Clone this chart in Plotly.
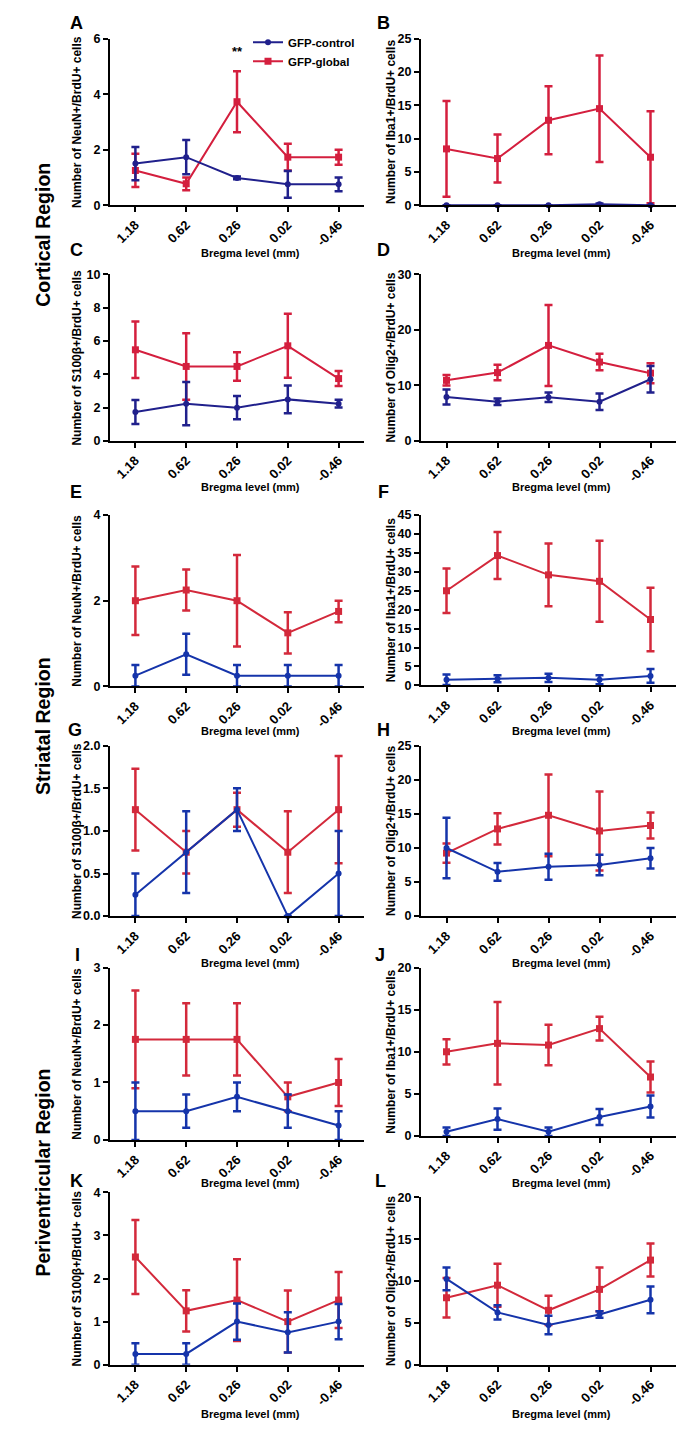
import plotly.graph_objects as go

BREGMA = ["1.18", "0.62", "0.26", "0.02", "-0.46"]
SERIES = ["GFP-control", "GFP-global"]
PANELS = ["A", "B", "C", "D", "E", "F", "G", "H", "I", "J", "K", "L"]
REGIONS = ["Cortical Region", "Striatal Region", "Periventricular Region"]
MARKERS = ["NeuN", "Iba1", "S100β", "Olig2"]

# ---- Cortical ----
A_CTRL = [1.5, 1.73, 0.98, 0.75, 0.75]
A_CTRL_ERR = [0.6, 0.62, 0.05, 0.48, 0.25]
A_GLOB = [1.25, 0.77, 3.73, 1.73, 1.73]
A_GLOB_ERR = [0.6, 0.23, 1.1, 0.48, 0.27]

B_CTRL = [0.0, 0.0, 0.0, 0.15, 0.0]
B_CTRL_ERR = [0.0, 0.0, 0.0, 0.1, 0.0]
B_GLOB = [8.45, 7.0, 12.75, 14.5, 7.2]
B_GLOB_ERR = [7.2, 3.6, 5.1, 8.0, 6.9]

C_CTRL = [1.73, 2.23, 1.99, 2.49, 2.23]
C_CTRL_ERR = [0.72, 1.3, 0.7, 0.84, 0.23]
C_GLOB = [5.47, 4.47, 4.47, 5.71, 3.74]
C_GLOB_ERR = [1.7, 2.0, 0.86, 1.92, 0.45]

D_CTRL = [7.9, 7.05, 7.85, 7.05, 11.1]
D_CTRL_ERR = [1.35, 0.6, 0.85, 1.5, 2.4]
D_GLOB = [10.9, 12.3, 17.2, 14.2, 12.2]
D_GLOB_ERR = [0.95, 1.4, 7.3, 1.5, 1.8]

# ---- Striatal ----
E_CTRL = [0.25, 0.75, 0.25, 0.25, 0.25]
E_CTRL_ERR = [0.25, 0.48, 0.25, 0.25, 0.25]
E_GLOB = [2.0, 2.25, 2.0, 1.25, 1.75]
E_GLOB_ERR = [0.8, 0.48, 1.07, 0.48, 0.25]

F_CTRL = [1.5, 1.75, 2.0, 1.5, 2.5]
F_CTRL_ERR = [1.4, 0.9, 1.1, 1.2, 1.8]
F_GLOB = [25.0, 34.3, 29.2, 27.5, 17.4]
F_GLOB_ERR = [5.9, 6.2, 8.3, 10.7, 8.4]

G_CTRL = [0.25, 0.75, 1.25, 0.0, 0.5]
G_CTRL_ERR = [0.25, 0.48, 0.25, 0.0, 0.5]
G_GLOB = [1.25, 0.75, 1.25, 0.75, 1.25]
G_GLOB_ERR = [0.48, 0.25, 0.2, 0.48, 0.63]

H_CTRL = [10.0, 6.5, 7.25, 7.5, 8.5]
H_CTRL_ERR = [4.45, 1.3, 1.9, 1.5, 1.5]
H_GLOB = [9.25, 12.8, 14.8, 12.5, 13.3]
H_GLOB_ERR = [1.4, 2.3, 6.0, 5.8, 1.9]

# ---- Periventricular ----
I_CTRL = [0.5, 0.5, 0.75, 0.5, 0.25]
I_CTRL_ERR = [0.5, 0.29, 0.25, 0.29, 0.25]
I_GLOB = [1.75, 1.75, 1.75, 0.75, 1.0]
I_GLOB_ERR = [0.85, 0.63, 0.63, 0.25, 0.41]

J_CTRL = [0.5, 2.0, 0.5, 2.25, 3.5]
J_CTRL_ERR = [0.5, 1.25, 0.5, 0.95, 1.3]
J_GLOB = [10.0, 11.0, 10.8, 12.75, 7.0]
J_GLOB_ERR = [1.5, 4.9, 2.4, 1.4, 1.85]

K_CTRL = [0.25, 0.25, 1.0, 0.75, 1.0]
K_CTRL_ERR = [0.25, 0.25, 0.42, 0.47, 0.41]
K_GLOB = [2.5, 1.25, 1.5, 1.0, 1.5]
K_GLOB_ERR = [0.86, 0.48, 0.95, 0.72, 0.65]

L_CTRL = [10.25, 6.25, 4.75, 6.0, 7.75]
L_CTRL_ERR = [1.35, 0.85, 1.1, 0.4, 1.6]
L_GLOB = [8.0, 9.5, 6.5, 9.0, 12.5]
L_GLOB_ERR = [2.37, 2.57, 1.75, 2.6, 1.97]

Y_MAX = [6, 25, 10, 30, 4, 45, 2, 25, 3, 20, 4, 20]
Y_DTICK = [2, 5, 2, 10, 2, 5, 0.5, 5, 1, 5, 1, 5]

SIG_LABEL = "**"
SIG_CATEGORY = "0.26"
SIG_VALUE = 5.55

DATA = [
    (A_CTRL, A_CTRL_ERR, A_GLOB, A_GLOB_ERR),
    (B_CTRL, B_CTRL_ERR, B_GLOB, B_GLOB_ERR),
    (C_CTRL, C_CTRL_ERR, C_GLOB, C_GLOB_ERR),
    (D_CTRL, D_CTRL_ERR, D_GLOB, D_GLOB_ERR),
    (E_CTRL, E_CTRL_ERR, E_GLOB, E_GLOB_ERR),
    (F_CTRL, F_CTRL_ERR, F_GLOB, F_GLOB_ERR),
    (G_CTRL, G_CTRL_ERR, G_GLOB, G_GLOB_ERR),
    (H_CTRL, H_CTRL_ERR, H_GLOB, H_GLOB_ERR),
    (I_CTRL, I_CTRL_ERR, I_GLOB, I_GLOB_ERR),
    (J_CTRL, J_CTRL_ERR, J_GLOB, J_GLOB_ERR),
    (K_CTRL, K_CTRL_ERR, K_GLOB, K_GLOB_ERR),
    (L_CTRL, L_CTRL_ERR, L_GLOB, L_GLOB_ERR),
]

# ---- layout geometry (pixels) ----
W, H = 685, 1433
COL_X = [(102, 356), (413, 668)]
PANEL_Y = [(24, 192), (24, 192), (262, 430), (262, 430), (505, 678), (505, 677),
           (738, 910), (738, 910), (962, 1136), (962, 1132), (1189, 1363), (1194, 1363)]
XTITLE_Y = [240, 240, 477, 477, 723, 723, 957, 957, 1180, 1180, 1413, 1413]
XTITLE_X = [243, 553]
YTITLE_X = [69, 383]
LETTER_POS = [(68, 8), (375, 8), (68, 237), (375, 237), (68, 482), (375, 482),
              (67, 722), (375, 722), (69, 949), (372, 949), (68, 1178), (372, 1177)]
REGION_Y = [222, 718, 1169]
REGION_X = 35

FONT = "Liberation Sans, Arial, sans-serif"
BLUE_TOP = "#20208c"
RED_TOP = "#d41f3e"
BLUE_BOT = "#1534aa"
RED_BOT = "#d3293b"


def px_x(v):
    return v / W


def px_y(v):
    return 1 - v / H


fig = go.Figure()
annotations = []

for i, (ctrl, ctrl_e, glob, glob_e) in enumerate(DATA):
    col = i % 2
    n = i + 1
    xa = "x" if n == 1 else f"x{n}"
    ya = "y" if n == 1 else f"y{n}"
    blue = BLUE_TOP if i < 4 else BLUE_BOT
    red = RED_TOP if i < 4 else RED_BOT

    fig.add_trace(go.Scatter(
        x=BREGMA, y=glob, name=SERIES[1], mode="lines+markers",
        line=dict(color=red, width=2),
        marker=dict(symbol="square", size=7, color=red),
        error_y=dict(type="data", array=glob_e, visible=True, color=red,
                     thickness=2.5, width=4),
        xaxis=xa, yaxis=ya, cliponaxis=False, showlegend=(i == 0),
        legendrank=2,
    ))
    fig.add_trace(go.Scatter(
        x=BREGMA, y=ctrl, name=SERIES[0], mode="lines+markers",
        line=dict(color=blue, width=2),
        marker=dict(symbol="circle", size=6, color=blue),
        error_y=dict(type="data", array=ctrl_e, visible=True, color=blue,
                     thickness=2.5, width=4),
        xaxis=xa, yaxis=ya, cliponaxis=False, showlegend=(i == 0),
        legendrank=1,
    ))

    x0, x1 = COL_X[col]
    y0, y1 = PANEL_Y[i]
    axis_common = dict(showline=True, linecolor="black", linewidth=2,
                       ticks="outside", ticklen=5, tickwidth=2, tickcolor="black",
                       showgrid=False, zeroline=False)
    fig.layout[f"xaxis{'' if n == 1 else n}"] = dict(
        domain=[px_x(x0), px_x(x1)], anchor=ya, type="category",
        categoryorder="array", categoryarray=BREGMA,
        range=[-0.5, 4.5], tickangle=-45,
        tickfont=dict(family=FONT, size=13, color="black", weight="bold"),
        **axis_common)
    fig.layout[f"yaxis{'' if n == 1 else n}"] = dict(
        domain=[px_y(y1), px_y(y0)], anchor=xa, range=[0, Y_MAX[i]],
        dtick=Y_DTICK[i], tick0=0, tickformat=".1f" if Y_DTICK[i] < 1 else "d",
        tickfont=dict(family=FONT, size=12.5, color="black", weight="bold"),
        **axis_common)

    marker_name = MARKERS[i % 4]
    annotations.append(dict(
        text=f"Number of {marker_name}+/BrdU+ cells", textangle=-90,
        xref="paper", yref="paper", x=px_x(YTITLE_X[col]), y=px_y((y0 + y1) / 2),
        showarrow=False, xanchor="center", yanchor="middle",
        font=dict(family=FONT, size=12, color="black", weight="bold")))
    annotations.append(dict(
        text="Bregma level (mm)", xref="paper", yref="paper",
        x=px_x(XTITLE_X[col]), y=px_y(XTITLE_Y[i]), showarrow=False,
        xanchor="center", yanchor="middle",
        font=dict(family=FONT, size=11, color="black", weight="bold")))
    lx, ly = LETTER_POS[i]
    annotations.append(dict(
        text=PANELS[i], xref="paper", yref="paper", x=px_x(lx), y=px_y(ly),
        showarrow=False, xanchor="center", yanchor="middle",
        font=dict(family=FONT, size=18, color="black", weight="bold")))

for r, name in enumerate(REGIONS):
    annotations.append(dict(
        text=name, textangle=-90, xref="paper", yref="paper",
        x=px_x(REGION_X), y=px_y(REGION_Y[r]), showarrow=False,
        xanchor="center", yanchor="middle",
        font=dict(family=FONT, size=19.5, color="black", weight="bold")))

# significance marker (category axis positions are indices)
annotations.append(dict(
    text=SIG_LABEL, xref="x", yref="y", x=BREGMA.index(SIG_CATEGORY), y=SIG_VALUE,
    showarrow=False, xanchor="center", yanchor="middle",
    font=dict(family=FONT, size=13, color="black", weight="bold")))

fig.update_layout(
    width=W, height=H, margin=dict(l=0, r=0, t=0, b=0),
    paper_bgcolor="white", plot_bgcolor="white",
    annotations=annotations,
    legend=dict(x=px_x(240), y=px_y(13), xanchor="left", yanchor="top",
                bgcolor="rgba(0,0,0,0)", itemwidth=30, tracegroupgap=0,
                font=dict(family=FONT, size=11.5, color="black", weight="bold")),
    showlegend=True,
)

fig.write_html("out.html")
